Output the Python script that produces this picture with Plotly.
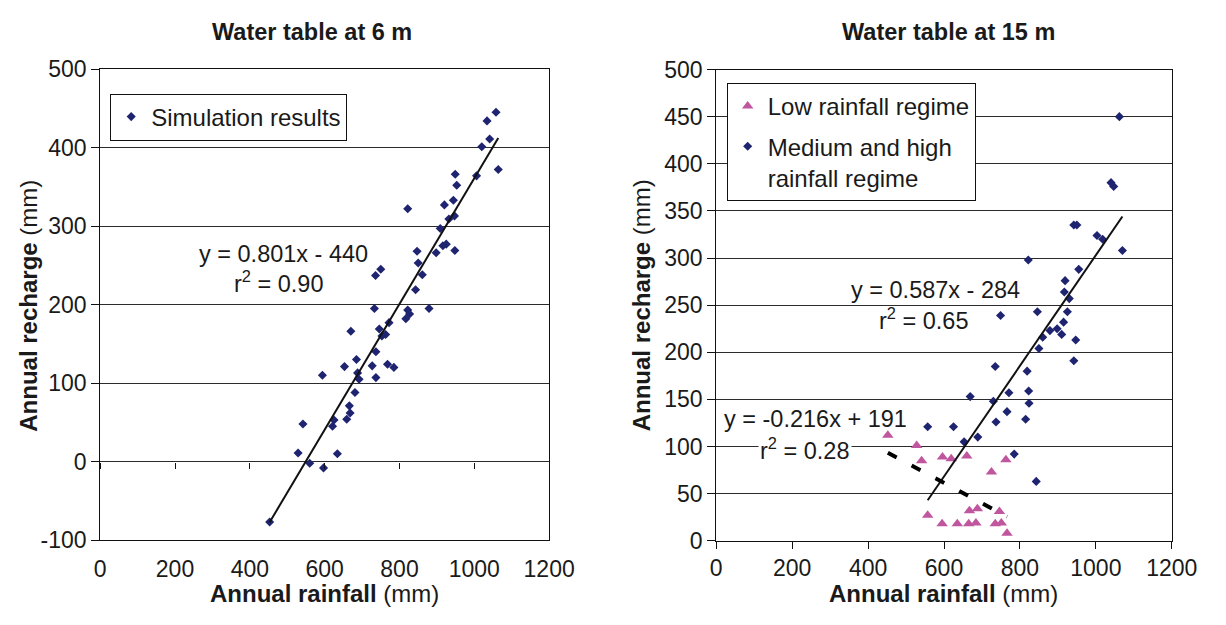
import plotly.graph_objects as go

# ---------------- data ----------------
# Left panel: water table at 6 m
sim_rain = [1058, 1034, 1041, 1020, 1064, 1006, 949, 953, 822, 920, 944, 932, 947, 909,
            916, 925, 898, 948, 847, 850, 861, 843, 750, 736,
            733, 879, 822, 827, 817, 772, 746, 670, 763, 753, 737, 685, 653, 727, 768, 785,
            594, 688, 692, 737, 681, 666, 668, 659, 625, 621, 542, 529, 560, 597, 634, 453]
sim_recharge = [445, 434, 411, 401, 372, 364, 366, 352, 322, 327, 333, 309, 313, 297,
                275, 277, 266, 269, 268, 253, 238, 219, 245, 237,
                195, 195, 193, 188, 182, 177, 169, 166, 162, 160, 140, 130, 121, 122, 124, 120,
                110, 113, 105, 107, 88, 71, 62, 54, 53, 45, 48, 11, -2, -8, 10, -77]
fit6 = (0.801, -440)

# Right panel: water table at 15 m
low_rain = [452, 528, 541, 596, 619, 660, 763, 725, 557, 595, 635, 665, 684, 667, 688, 735, 751, 746, 766]
low_recharge = [112, 101, 85, 89, 87, 90, 86, 73, 27, 18, 18, 18, 19, 32, 34, 18, 19, 31, 8]
low_fit = (-0.216, 191)

med_rain = [822, 942, 950, 955, 919, 917, 930, 846, 749, 925, 915, 898, 879, 860, 910, 947, 850,
            942, 735, 819, 771, 823, 824, 730, 669, 766, 815, 737, 557, 625, 689, 653, 785, 843,
            1003, 1018, 1040, 1047, 1062, 1070]
med_recharge = [298, 335, 335, 288, 276, 264, 257, 243, 239, 243, 232, 225, 223, 216, 219, 213, 204,
                191, 185, 180, 157, 159, 146, 148, 153, 137, 129, 126, 121, 121, 110, 105, 92, 63,
                324, 320, 380, 376, 450, 308]
med_fit = (0.587, -284)

x_ticks = [0, 200, 400, 600, 800, 1000, 1200]
left_y_ticks = [-100, 0, 100, 200, 300, 400, 500]
left_y_labels = ["-100", "0", "100", "200", "300", "400", "500"]

# ---------------- styling ----------------
FONT = "Liberation Sans, Arial, sans-serif"
TXT = "#1a1a1a"
NAVY = "#1f2470"
PINK = "#c0569e"
FS_TICK = 23
FS_TXT = 24
W, H = 1226, 625


def px(x):
    return x / W


def py(y):
    return 1 - y / H


L_dom_x = [px(96.7), px(557.7)]
L_dom_y = [py(550.0), py(58.5)]
R_dom_x = [px(729.3), px(1197.0)]
R_dom_y = [py(550.7), py(59.0)]

fig = go.Figure()

# left panel
fig.add_trace(go.Scatter(x=sim_rain, y=sim_recharge, mode="markers", name="Simulation results",
                         marker=dict(symbol="diamond", size=7, color=NAVY),
                         xaxis="x", yaxis="y", legend="legend"))
lx = [min(sim_rain), max(sim_rain)]
fig.add_trace(go.Scatter(x=lx, y=[fit6[0] * v + fit6[1] for v in lx], mode="lines",
                         line=dict(color="#111111", width=2), showlegend=False,
                         xaxis="x3", yaxis="y"))

# right panel
fig.add_trace(go.Scatter(x=low_rain, y=low_recharge, mode="markers", name="Low rainfall regime",
                         marker=dict(symbol="triangle-up", size=10, color=PINK),
                         xaxis="x2", yaxis="y2", legend="legend2", legendgroup="low"))
fig.add_trace(go.Scatter(x=med_rain, y=med_recharge, mode="markers",
                         name="Medium and high<br>rainfall regime",
                         marker=dict(symbol="diamond", size=7, color=NAVY),
                         xaxis="x2", yaxis="y2", legend="legend2", legendgroup="med"))
mx = [min(med_rain), max(med_rain)]
fig.add_trace(go.Scatter(x=mx, y=[med_fit[0] * v + med_fit[1] for v in mx], mode="lines",
                         line=dict(color="#111111", width=2), showlegend=False,
                         xaxis="x2", yaxis="y2"))
lwx = [min(low_rain), max(low_rain)]
fig.add_trace(go.Scatter(x=lwx, y=[low_fit[0] * v + low_fit[1] for v in lwx], mode="lines",
                         line=dict(color="#000000", width=4, dash="10px,17px"), showlegend=False,
                         xaxis="x2", yaxis="y2"))

tickfont = dict(family=FONT, size=FS_TICK, color=TXT)

common_x = dict(range=[0, 1200], tickvals=x_ticks, showgrid=False, zeroline=False,
                showline=True, linecolor="#111111", linewidth=1, mirror=True,
                tickfont=tickfont, fixedrange=True)

fig.update_layout(
    width=W, height=H, margin=dict(l=0, r=0, t=0, b=0),
    paper_bgcolor="white", plot_bgcolor="white",
    font=dict(family=FONT, size=FS_TXT, color=TXT),
    xaxis=dict(domain=L_dom_x, anchor="y", ticks="outside", ticklen=8,
               tickcolor="rgba(0,0,0,0)", **common_x),
    yaxis=dict(domain=L_dom_y, anchor="x", range=[-100, 500],
               tickvals=left_y_ticks, ticktext=left_y_labels,
               showgrid=True, gridcolor="#2b2b2b", gridwidth=1, zeroline=False,
               showline=True, linecolor="#111111", mirror=True,
               ticks="outside", ticklen=8, tickcolor="#111111", tickfont=tickfont, fixedrange=True),
    xaxis3=dict(overlaying="x", anchor="free",
                position=L_dom_y[0] + (L_dom_y[1] - L_dom_y[0]) * (100 / 600),
                range=[0, 1200], tickvals=x_ticks, ticks="outside", ticklen=6, tickcolor="#111111",
                showticklabels=False, showline=False, showgrid=False, zeroline=False, fixedrange=True),
    xaxis2=dict(domain=R_dom_x, anchor="y2", ticks="outside", ticklen=7,
                tickcolor="#111111", **common_x),
    yaxis2=dict(domain=R_dom_y, anchor="x2", range=[0, 500], dtick=50, tick0=0,
                showgrid=True, gridcolor="#2b2b2b", gridwidth=1, zeroline=False,
                showline=True, linecolor="#111111", mirror=True,
                ticks="outside", ticklen=8, tickcolor="#111111", tickfont=tickfont, fixedrange=True),
    legend=dict(x=px(107), y=py(84), xanchor="left", yanchor="top",
                bordercolor="#111111", borderwidth=1, bgcolor="white",
                font=dict(family=FONT, size=FS_TXT, color=TXT)),
    legend2=dict(x=px(740), y=py(73), xanchor="left", yanchor="top",
                 bordercolor="#111111", borderwidth=1, bgcolor="white",
                 font=dict(family=FONT, size=FS_TXT, color=TXT),
                 traceorder="grouped", tracegroupgap=6, valign="top"),
    showlegend=True,
)

ann = []


def add_text(text, x, y, size=FS_TXT, angle=0, bg=None):
    d = dict(text=text, x=px(x), y=py(y), xref="paper", yref="paper",
             xanchor="center", yanchor="middle", showarrow=False,
             font=dict(family=FONT, size=size, color=TXT), textangle=angle)
    if bg:
        d["bgcolor"] = bg
    ann.append(d)


add_text("<b>Water table at 6 m</b>", 314, 20, size=23.5)
add_text("<b>Water table at 15 m</b>", 968, 20, size=23.5)
add_text("<b>Annual rainfall</b> (mm)", 327, 606)
add_text("<b>Annual rainfall</b> (mm)", 963, 606)
add_text("<b>Annual recharge</b> (mm)", 23, 305, angle=-90)
add_text("<b>Annual recharge</b> (mm)", 652, 305, angle=-90)
add_text("y = 0.801x - 440", 285, 251, size=23.5)
add_text("r<sup>2</sup> = 0.90", 280, 281, size=23.5)
add_text("y = 0.587x - 284", 954, 289, size=23.5)
add_text("r<sup>2</sup> = 0.65", 943, 319, size=23.5)
add_text("y = -0.216x + 191", 831, 424, size=23.5)
add_text("r<sup>2</sup> = 0.28", 820, 455, size=23.5, bg="white")

fig.update_layout(annotations=ann)

fig.write_html("out.html", config={"displayModeBar": False})
